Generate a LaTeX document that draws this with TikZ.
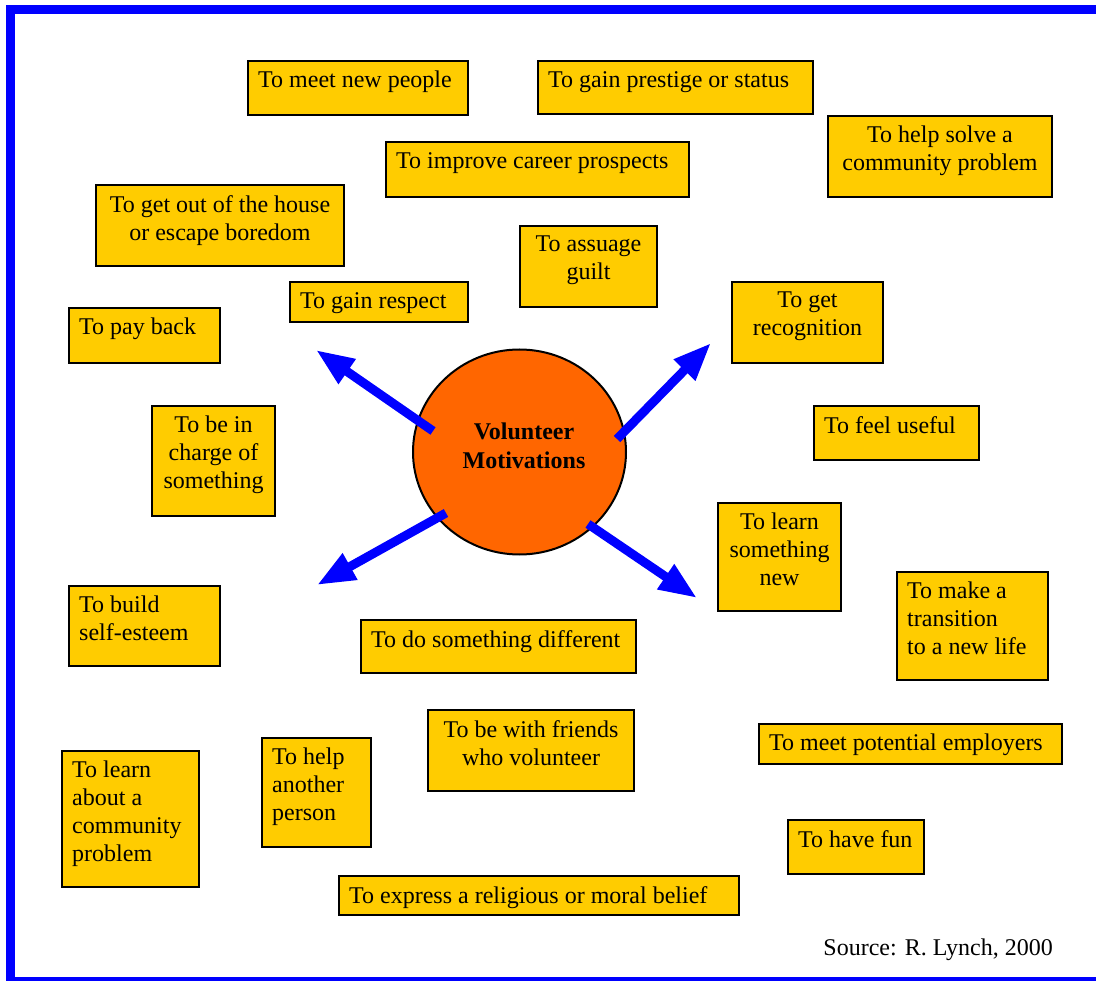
\documentclass[tikz,border=0pt]{standalone}
\usepackage{fontspec}
\setmainfont{Liberation Serif}
\usetikzlibrary{arrows.meta,shapes.geometric}
\definecolor{boxyellow}{HTML}{FFCC00}
\definecolor{ctrorange}{HTML}{FF6600}
\definecolor{frameblue}{HTML}{0000FF}
\tikzset{
  ybox/.style={draw=black, line width=2.5pt, fill=boxyellow, inner sep=0pt, rectangle},
  txt/.style={inner sep=0pt, font=\fontsize{24}{28}\selectfont},
  arr/.style={draw=frameblue, line width=9pt, line cap=butt, -{Triangle[length=38pt,width=28pt]}},
}
\newcommand{\lyb}[6]{%
  \node[ybox, minimum width={(#4-#2)*1pt}, minimum height={(#5-#3)*1pt}] (#1) at ({(#2+#4)/2},{(#3+#5)/2}) {};
  \node[txt, anchor=north west, align=left] (#1t) at ({#2+10},{#3+10}) {#6};}
\newcommand{\cyb}[6]{%
  \node[ybox, minimum width={(#4-#2)*1pt}, minimum height={(#5-#3)*1pt}] (#1) at ({(#2+#4)/2},{(#3+#5)/2}) {};
  \node[txt, anchor=north, align=center] (#1t) at ({(#2+#4)/2},{#3+10}) {#6};}
\begin{document}
\begin{tikzpicture}[x=1pt,y=-1pt]
\useasboundingbox (0,0) rectangle (1096,981);
\clip (0,0) rectangle (1096,981);
\fill[white] (0,0) rectangle (1096,981);
\draw[frameblue, line width=9pt] (10.5,9.5) rectangle (1130,981.5);

\lyb{b1}{248}{61}{468}{115}{To meet new people}
\lyb{b2}{538}{61}{813}{114}{To gain prestige or status}
\cyb{b3}{828}{116}{1052}{197}{To help solve a\\community problem}
\lyb{b4}{386}{142}{689}{197}{To improve career prospects}
\cyb{b5}{96}{185}{344}{266}{To get out of the house\\or escape boredom}
\cyb{b6}{520}{226}{657}{307}{To assuage\\guilt}
\lyb{b7}{290}{282}{468}{322}{To gain respect}
\lyb{b8}{69}{308}{220}{363}{To pay back}
\cyb{b9}{732}{282}{883}{363}{To get\\recognition}
\lyb{b10}{814}{406}{979}{460}{To feel useful}
\cyb{b11}{152}{406}{275}{516}{To be in\\charge of\\something}
\cyb{b12}{718}{503}{841}{611}{To learn\\something\\new}
\lyb{b13}{897}{572}{1048}{680}{To make a\\transition\\to a new life}
\lyb{b14}{69}{586}{220}{666}{To build\\self-esteem}
\lyb{b15}{361}{620}{636}{673}{To do something different}
\cyb{b16}{428}{710}{634}{791}{To be with friends\\who volunteer}
\lyb{b17}{759}{724}{1062}{764}{To meet potential employers}
\lyb{b18}{62}{751}{199}{887}{To learn\\about a\\community\\problem}
\lyb{b19}{262}{738}{371}{847}{To help\\another\\person}
\lyb{b20}{788}{820}{924}{874}{To have fun}
\lyb{b21}{339}{876}{739}{915}{To express a religious or moral belief}

\node[ellipse, draw=black, line width=2pt, fill=ctrorange, minimum width=213pt, minimum height=205pt, inner sep=0pt] (ctr) at (519.5,452) {};
\node[txt, align=center, font=\fontsize{24}{29}\selectfont\bfseries] (ctrt) at (524,446) {Volunteer\\Motivations};

\coordinate (nwA) at (433,431);
\coordinate (nwB) at (316,350);
\coordinate (neA) at (617,439);
\coordinate (neB) at (711,343);
\coordinate (seA) at (588,524);
\coordinate (seB) at (697,598);
\coordinate (swA) at (446,513);
\coordinate (swB) at (317,585);
\draw[arr] (nwA) -- (nwB);
\draw[arr] (neA) -- (neB);
\draw[arr] (seA) -- (seB);
\draw[arr] (swA) -- (swB);

\node[txt, anchor=base east] (src) at (1053,955) {Source: R. Lynch, 2000};
\end{tikzpicture}
\end{document}
